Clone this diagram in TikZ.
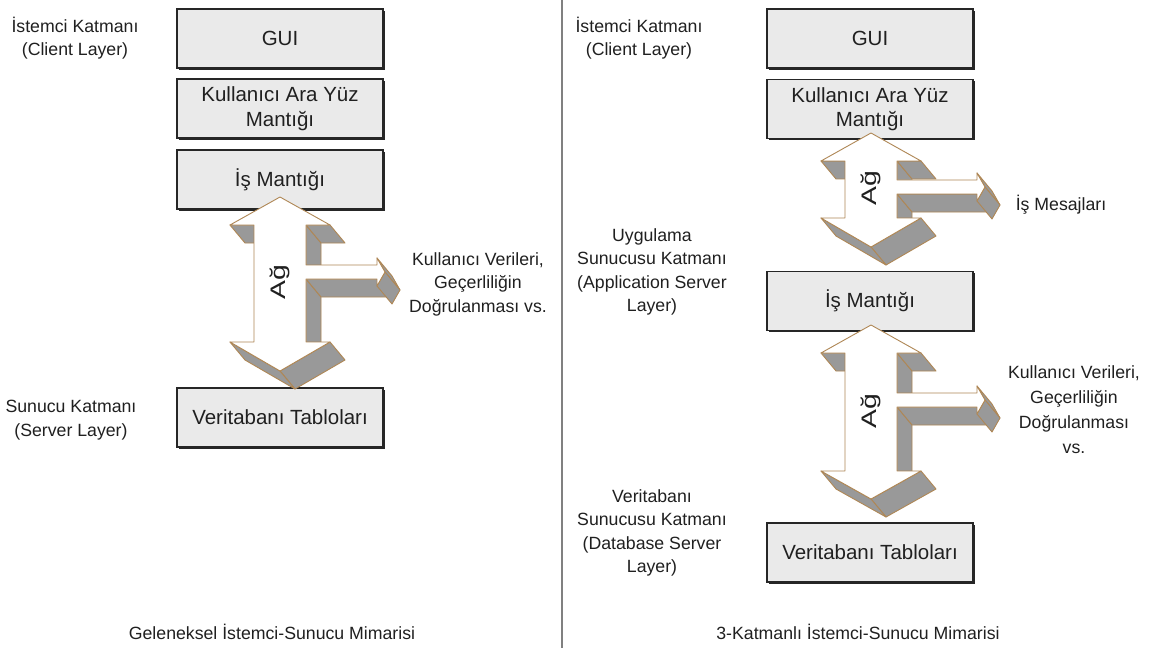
\documentclass[tikz,border=0pt]{standalone}
\usepackage{fontspec}
\setmainfont{Liberation Sans}
\usetikzlibrary{calc,shadows}

\definecolor{edgetan}{RGB}{175,135,85}
\definecolor{facegray}{RGB}{153,153,153}
\definecolor{boxfill}{RGB}{234,234,234}
\definecolor{inkgray}{RGB}{32,32,32}

\tikzset{
  tierbox/.style={draw=black!85, line width=1.3pt, fill=boxfill,
    minimum width=206pt, minimum height=59pt, inner sep=0pt, align=center,
    text=inkgray, font=\fontsize{20.5}{24.5}\selectfont,
    drop shadow={shadow xshift=1.6pt, shadow yshift=-1.6pt, fill=black!85, opacity=1}},
  sidelabel/.style={align=center, text=inkgray, inner sep=0pt,
    font=\fontsize{17.7}{23.5}\selectfont},
  sideface/.style={fill=facegray, draw=edgetan, line width=0.9pt, line join=round},
  frontface/.style={fill=white, draw=edgetan, line width=0.9pt, line join=round},
  netlabel/.style={rotate=90, text=inkgray, inner sep=0pt,
    font=\fontsize{21}{24}\selectfont},
  divider/.style={draw=black!50, line width=1.8pt},
}

% one extruded side face of a 3-D arrow, swept along the depth vector
\newcommand{\sideface}[2]{%
  \filldraw[sideface] (#1) -- (#2) -- ($(#2)+(15,18)$) -- ($(#1)+(15,18)$) -- cycle;}

% double-headed 3-D network arrow with a small branch arrow to the right
% #1 name, #2 centre x, #3 top tip y, #4 upper wing y, #5 lower wing y,
% #6 bottom tip y, #7 branch centre y, #8 branch end x
\newcommand{\netarrow}[8]{%
  \coordinate (#1-p1) at (#2,#3);
  \coordinate (#1-p2) at ({#2+50},#4);
  \coordinate (#1-p3) at ({#2+26},#4);
  \coordinate (#1-p4) at ({#2+26},{#7-7});
  \coordinate (#1-p5) at (#8,{#7-7});
  \coordinate (#1-p6) at (#8,{#7-14});
  \coordinate (#1-p7) at ({#8+8},#7);
  \coordinate (#1-p8) at (#8,{#7+14});
  \coordinate (#1-p9) at (#8,{#7+7});
  \coordinate (#1-p10) at ({#2+26},{#7+7});
  \coordinate (#1-p11) at ({#2+26},#5);
  \coordinate (#1-p12) at ({#2+50},#5);
  \coordinate (#1-p13) at (#2,#6);
  \coordinate (#1-p14) at ({#2-50},#5);
  \coordinate (#1-p15) at ({#2-26},#5);
  \coordinate (#1-p16) at ({#2-26},#4);
  \coordinate (#1-p17) at ({#2-50},#4);
  \sideface{#1-p3}{#1-p4}
  \sideface{#1-p2}{#1-p3}
  \sideface{#1-p16}{#1-p17}
  \sideface{#1-p10}{#1-p11}
  \sideface{#1-p9}{#1-p10}
  \sideface{#1-p6}{#1-p7}
  \sideface{#1-p7}{#1-p8}
  \sideface{#1-p12}{#1-p13}
  \sideface{#1-p13}{#1-p14}
  \filldraw[frontface] (#1-p1) -- (#1-p2) -- (#1-p3) -- (#1-p4) -- (#1-p5)
    -- (#1-p6) -- (#1-p7) -- (#1-p8) -- (#1-p9) -- (#1-p10) -- (#1-p11)
    -- (#1-p12) -- (#1-p13) -- (#1-p14) -- (#1-p15) -- (#1-p16) -- (#1-p17) -- cycle;
  \node[netlabel] (#1-label) at (#2,{(#4+#5)/2-1}) {\scalebox{1.35}[1]{Ağ}};
}

\begin{document}
\begin{tikzpicture}[x=1pt,y=-1pt]
  \useasboundingbox (0,0) rectangle (1152,650);
  \fill[white] (0,0) rectangle (1152,650);

  % separator between the two architectures
  \draw[divider] (562,0) -- (562,648);

  % --- traditional client-server ---
  \node[tierbox] (guiL)  at (280,38.5)  {GUI};
  \node[tierbox] (uiL)   at (280,108.5) {Kullanıcı Ara Yüz\\Mantığı};
  \node[tierbox] (bizL)  at (280,179.5) {İş Mantığı};
  \node[tierbox] (dbL)   at (280,417.5) {Veritabanı Tabloları};

  \node[sidelabel] (clientL) at (75,38)  {İstemci Katmanı\\(Client Layer)};
  \node[sidelabel] (serverL) at (71,420) {Sunucu Katmanı\\(Server Layer)};
  \node[sidelabel] (dataL)   at (478,284) {Kullanıcı Verileri,\\Geçerliliğin\\Doğrulanması vs.};

  \netarrow{netL}{280}{197}{225}{342}{371}{272}{377}

  \node[sidelabel] (capL) at (272,632) {Geleneksel İstemci-Sunucu Mimarisi};

  % --- three-tier client-server ---
  \node[tierbox] (guiR)  at (870,38.5) {GUI};
  \node[tierbox] (uiR)   at (870,109)  {Kullanıcı Ara Yüz\\Mantığı};
  \node[tierbox] (bizR)  at (870,301)  {İş Mantığı};
  \node[tierbox] (dbR)   at (870,552.5) {Veritabanı Tabloları};

  \node[sidelabel] (clientR) at (639,38)  {İstemci Katmanı\\(Client Layer)};
  \node[sidelabel] (appR)    at (652,272) {Uygulama\\Sunucusu Katmanı\\(Application Server\\Layer)};
  \node[sidelabel] (dbsrvR)  at (652,533) {Veritabanı\\Sunucusu Katmanı\\(Database Server\\Layer)};
  \node[sidelabel] (msgR)    at (1061,205) {İş Mesajları};
  \node[sidelabel, font=\fontsize{17.7}{25}\selectfont] (dataR) at (1074,410)
    {Kullanıcı Verileri,\\Geçerliliğin\\Doğrulanması\\vs.};

  \netarrow{netA}{871}{133}{161}{218}{247}{187}{977}
  \netarrow{netB}{871}{325}{353}{471}{499}{400}{977}

  \node[sidelabel] (capR) at (858,632) {3-Katmanlı İstemci-Sunucu Mimarisi};
\end{tikzpicture}
\end{document}
